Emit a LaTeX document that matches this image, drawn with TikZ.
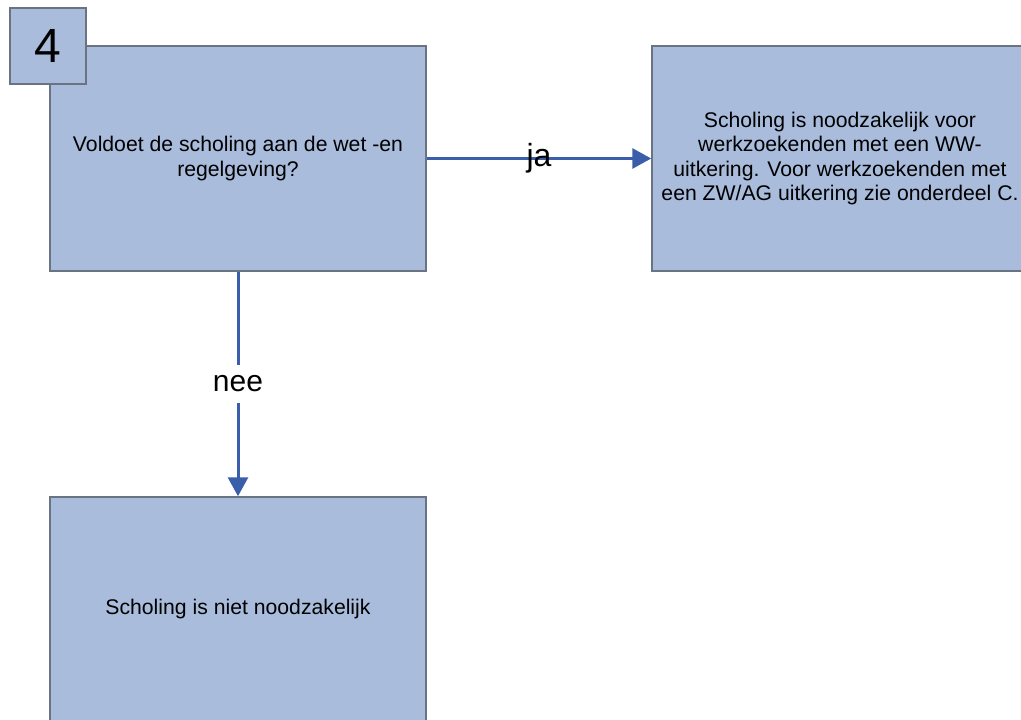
\documentclass[tikz,border=0pt]{standalone}
\usepackage{fontspec}
\setmainfont{Liberation Sans}
\usetikzlibrary{arrows.meta}
\definecolor{boxblue}{RGB}{169,188,220}
\definecolor{boxline}{RGB}{105,115,130}
\definecolor{arrowblue}{RGB}{58,94,170}

\begin{document}
\begin{tikzpicture}[x=1pt,y=-1pt,
    blok/.style={draw=boxline,fill=boxblue,line width=1.5pt,inner sep=0pt,
      minimum width=376pt,minimum height=225pt,align=center,
      font=\fontsize{21.2}{24.5}\selectfont},
    pijl/.style={draw=arrowblue,line width=3pt,-{Triangle[length=19pt,width=20pt]}},
    lbl/.style={midway,inner xsep=2pt,inner ysep=11pt,font=\fontsize{30}{30}\selectfont}]
  \useasboundingbox (0,0) rectangle (1021,720);
  \clip (0,0) rectangle (1021,720);
  \node[blok](Q) at (238,158.5) {Voldoet de scholing aan de wet -en\\regelgeving?};
  \node[blok](J) at (840,158.5) {Scholing is noodzakelijk voor\\werkzoekenden met een WW-\\uitkering. Voor werkzoekenden met\\een ZW/AG uitkering zie onderdeel C.};
  \node[blok](N) at (238,609.5) {Scholing is niet noodzakelijk};
  \node[blok,minimum width=76pt,minimum height=76pt,font=\fontsize{48}{48}\selectfont](NR) at (48,46) {4};
  \draw[pijl] (Q) -- (J) node[lbl,font=\fontsize{32}{32}\selectfont] {ja};
  \draw[pijl] (Q) -- (N) node[lbl,fill=white] {nee};
\end{tikzpicture}
\end{document}
